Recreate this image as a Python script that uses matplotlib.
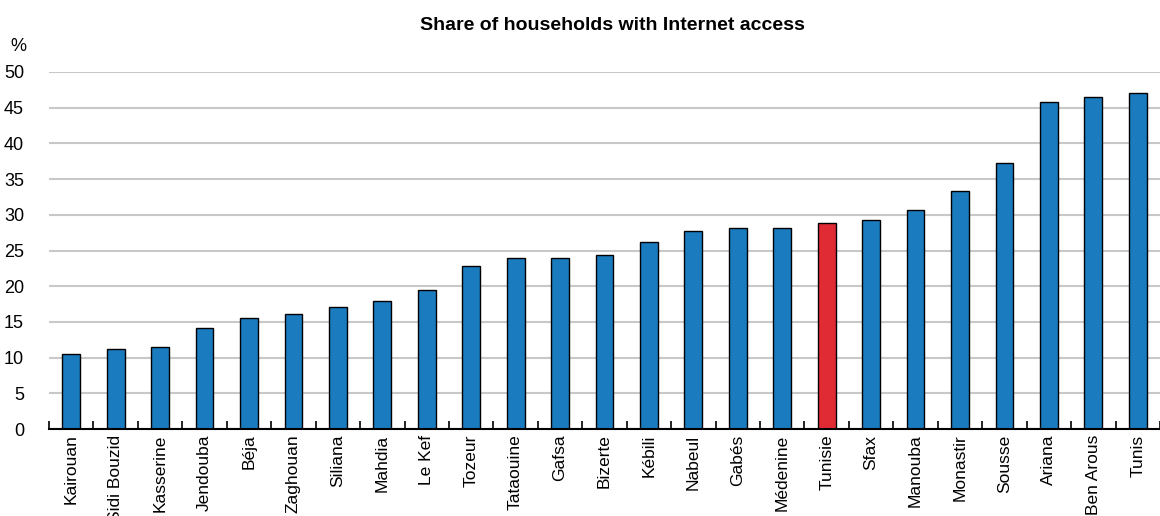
import matplotlib
matplotlib.use("Agg")
import matplotlib.pyplot as plt

regions = ["Kairouan", "Sidi Bouzid", "Kasserine", "Jendouba", "Béja", "Zaghouan",
           "Siliana", "Mahdia", "Le Kef", "Tozeur", "Tataouine", "Gafsa", "Bizerte",
           "Kébili", "Nabeul", "Gabés", "Médenine", "Tunisie", "Sfax", "Manouba",
           "Monastir", "Sousse", "Ariana", "Ben Arous", "Tunis"]
values = [10.5, 11.2, 11.5, 14.1, 15.5, 16.1, 17.1, 17.9, 19.5, 22.8, 23.9, 23.9, 24.4,
          26.2, 27.7, 28.2, 28.2, 28.9, 29.3, 30.7, 33.3, 37.3, 45.8, 46.5, 47.1]
highlight = "Tunisie"
yticks = [0, 5, 10, 15, 20, 25, 30, 35, 40, 45, 50]
title = "Share of households with Internet access"

plt.rcParams['font.family'] = ['Liberation Sans', 'DejaVu Sans']

W, H = 1160, 516
fig = plt.figure(figsize=(W / 100, H / 100), dpi=100)
left_px, right_px, bottom_px, top_px = 49, 1160, 429, 72
ax = fig.add_axes([left_px / W, 1 - bottom_px / H, (right_px - left_px) / W, (bottom_px - top_px) / H])

blue = "#1a7bbf"
red = "#e02b35"
colors = [red if r == highlight else blue for r in regions]
x = list(range(len(regions)))
ax.bar(x, values, width=0.4, color=colors, edgecolor="black", linewidth=1.0, zorder=3)

ax.set_xlim(-0.5, -0.5 + (right_px - left_px) / 44.83)
ax.set_ylim(0, 50)
ax.set_yticks(yticks)
ax.set_yticklabels([str(t) for t in yticks], fontsize=13)
ax.grid(axis="y", color="#c8c8c8", linewidth=1.5, zorder=0)
ax.tick_params(axis="y", length=0, pad=18)
for lab in ax.get_yticklabels():
    lab.set_horizontalalignment("right")

ax.set_xticks(x)
ax.set_xticklabels(regions, rotation=90, fontsize=12.5)
ax.tick_params(axis="x", which="major", length=0, pad=4)
ax.set_xticks([i - 0.5 for i in range(len(regions) + 1)], minor=True)
ax.tick_params(axis="x", which="minor", direction="in", length=6, width=1.2, color="black")

for s in ["left", "right", "top"]:
    ax.spines[s].set_visible(False)
ax.spines["bottom"].set_linewidth(1.5)
ax.spines["bottom"].set_zorder(4)

fig.text(612 / W, 1 - 25 / H, title, ha="center", va="center", fontsize=14, fontweight="bold")
fig.text(18 / W, 1 - 47 / H, "%", ha="center", va="center", fontsize=13)

fig.savefig("out.png", dpi=100)
